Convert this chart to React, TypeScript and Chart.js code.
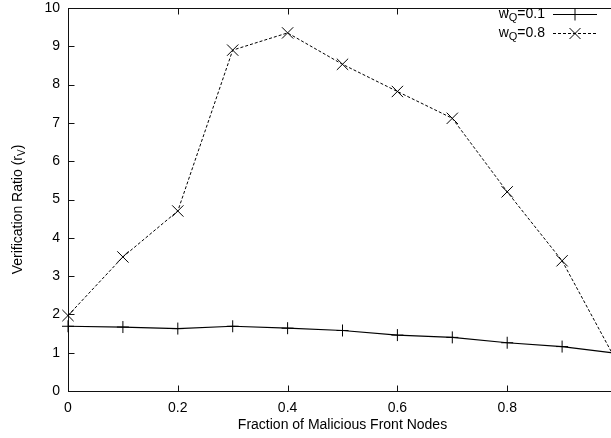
import React, { useEffect, useRef } from 'react';
import { Chart, registerables } from 'chart.js';

Chart.register(...registerables);

// ---- data ----
const fractions = [0, 0.1, 0.2, 0.3, 0.4, 0.5, 0.6, 0.7, 0.8, 0.9, 1.0];
const ratioWQ01 = [1.69, 1.67, 1.63, 1.69, 1.64, 1.58, 1.46, 1.4, 1.26, 1.16, 0.98];
const ratioWQ08 = [1.97, 3.5, 4.7, 8.9, 9.35, 8.53, 7.82, 7.12, 5.2, 3.4, 0.75];
const xTickValues = [0, 0.2, 0.4, 0.6, 0.8, 1.0];
const yTickValues = [0, 1, 2, 3, 4, 5, 6, 7, 8, 9, 10];
const seriesLabels = ['0.1', '0.8'];
const xTitle = 'Fraction of Malicious Front Nodes';
const yTitleMain = 'Verification Ratio (r';
const yTitleSub = 'V';
const yTitleEnd = ')';

const FONT = '"Liberation Sans", Arial, Helvetica, sans-serif';
const SHIFT = 7; // canvas is shifted up by this many px inside the frame

function drawMarker(ctx: CanvasRenderingContext2D, x: number, y: number, kind: 'plus' | 'x', r: number) {
  ctx.beginPath();
  if (kind === 'plus') {
    ctx.moveTo(x - r, y);
    ctx.lineTo(x + r, y);
    ctx.moveTo(x, y - r);
    ctx.lineTo(x, y + r);
  } else {
    ctx.moveTo(x - r, y - r);
    ctx.lineTo(x + r, y + r);
    ctx.moveTo(x - r, y + r);
    ctx.lineTo(x + r, y - r);
  }
  ctx.stroke();
}

const framePlugin = {
  id: 'gnuFrame',
  beforeDatasetsDraw(chart: any) {
    const { ctx, chartArea } = chart;
    const xs = chart.scales.x;
    const ys = chart.scales.y;
    const l = Math.round(chartArea.left) + 0.5;
    const r = Math.round(chartArea.right) + 0.5;
    const t = Math.round(chartArea.top) + 0.5;
    const b = Math.round(chartArea.bottom) + 0.5;
    ctx.save();
    ctx.strokeStyle = '#111';
    ctx.lineWidth = 1;
    ctx.strokeRect(l, t, r - l, b - t);
    const len = 6;
    ctx.beginPath();
    xTickValues.forEach((v) => {
      const px = Math.round(xs.getPixelForValue(v)) + 0.5;
      ctx.moveTo(px, b);
      ctx.lineTo(px, b - len);
      ctx.moveTo(px, t);
      ctx.lineTo(px, t + len);
    });
    yTickValues.forEach((v) => {
      const py = Math.round(ys.getPixelForValue(v)) + 0.5;
      ctx.moveTo(l, py);
      ctx.lineTo(l + len, py);
      ctx.moveTo(r, py);
      ctx.lineTo(r - len, py);
    });
    ctx.stroke();
    ctx.restore();
  },
  afterDraw(chart: any) {
    const { ctx, chartArea } = chart;
    ctx.save();
    ctx.fillStyle = '#000';
    ctx.textBaseline = 'middle';
    // x title
    ctx.font = `14px ${FONT}`;
    ctx.textAlign = 'center';
    ctx.fillText(xTitle, (chartArea.left + chartArea.right) / 2, 425 + SHIFT);

    // y title (rotated) with subscript
    ctx.save();
    ctx.translate(18, (chartArea.top + chartArea.bottom) / 2 + 10);
    ctx.rotate(-Math.PI / 2);
    ctx.textAlign = 'left';
    ctx.font = `14px ${FONT}`;
    const w1 = ctx.measureText(yTitleMain).width;
    const w3 = ctx.measureText(yTitleEnd).width;
    ctx.font = `10px ${FONT}`;
    const w2 = ctx.measureText(yTitleSub).width;
    let sx = -(w1 + w2 + w3) / 2;
    ctx.font = `14px ${FONT}`;
    ctx.fillText(yTitleMain, sx, 0);
    sx += w1;
    ctx.font = `10px ${FONT}`;
    ctx.fillText(yTitleSub, sx, 4);
    sx += w2;
    ctx.font = `14px ${FONT}`;
    ctx.fillText(yTitleEnd, sx, 0);
    ctx.restore();

    // legend
    const rows = [
      { y: 14 + SHIFT, label: seriesLabels[0], dash: [] as number[], kind: 'plus' as const, r: 6 },
      { y: 33 + SHIFT, label: seriesLabels[1], dash: [3, 2], kind: 'x' as const, r: 5.5 },
    ];
    rows.forEach((row) => {
      ctx.font = `14px ${FONT}`;
      const tail = '=' + row.label;
      const ww = ctx.measureText('w').width;
      const wt = ctx.measureText(tail).width;
      ctx.font = `11px ${FONT}`;
      const wq = ctx.measureText('Q').width;
      const right = 545;
      let x = right - (ww + wq + wt);
      ctx.textAlign = 'left';
      ctx.font = `14px ${FONT}`;
      ctx.fillText('w', x, row.y);
      x += ww;
      ctx.font = `11px ${FONT}`;
      ctx.fillText('Q', x, row.y + 4);
      x += wq;
      ctx.font = `14px ${FONT}`;
      ctx.fillText(tail, x, row.y);
      ctx.strokeStyle = '#000';
      ctx.lineWidth = row.kind === 'plus' ? 1.2 : 1;
      ctx.setLineDash(row.dash);
      ctx.beginPath();
      ctx.moveTo(553, row.y + 0.5);
      ctx.lineTo(597, row.y + 0.5);
      ctx.stroke();
      ctx.setLineDash([]);
      ctx.lineWidth = 1;
      drawMarker(ctx, 575, row.y + 0.5, row.kind, row.r);
    });
    ctx.restore();
  },
};

export default function App() {
  const ref = useRef<HTMLCanvasElement | null>(null);
  useEffect(() => {
    if (!ref.current) return;
    const chart = new Chart(ref.current, {
      type: 'line',
      data: {
        datasets: [
          {
            label: 'wQ=' + seriesLabels[0],
            data: fractions.map((f, i) => ({ x: f, y: ratioWQ01[i] })),
            borderColor: '#000',
            borderWidth: 1.2,
            pointStyle: 'cross',
            pointRadius: 6,
            pointBorderWidth: 1,
            pointBorderColor: '#000',
            pointBackgroundColor: '#000',
            fill: false,
            tension: 0,
            clip: false,
          } as any,
          {
            label: 'wQ=' + seriesLabels[1],
            data: fractions.map((f, i) => ({ x: f, y: ratioWQ08[i] })),
            borderColor: '#000',
            borderWidth: 1,
            borderDash: [3, 2],
            pointStyle: 'crossRot',
            pointRadius: 8,
            pointBorderWidth: 1,
            pointBorderColor: '#000',
            pointBackgroundColor: '#000',
            fill: false,
            tension: 0,
            clip: false,
          } as any,
        ],
      },
      options: {
        animation: false,
        responsive: false,
        devicePixelRatio: 1,
        layout: { padding: { top: 0, right: 5, left: 0, bottom: 0 } },
        plugins: { legend: { display: false }, tooltip: { enabled: false } },
        scales: {
          x: {
            type: 'linear',
            min: 0,
            max: 1,
            grid: { display: false, drawTicks: false },
            border: { display: false },
            afterFit: (s: any) => { s.height = 47; },
            afterBuildTicks: (s: any) => { s.ticks = xTickValues.map((v) => ({ value: v })); },
            ticks: {
              padding: 10,
              color: '#000',
              font: { family: FONT, size: 14, lineHeight: 1 },
              maxRotation: 0,
              callback: (v: any) => (Number(v) >= 0.999 ? '' : String(+Number(v).toFixed(1))),
            },
          },
          y: {
            type: 'linear',
            min: 0,
            max: 10,
            grid: { display: false, drawTicks: false },
            border: { display: false },
            afterFit: (s: any) => { s.width = 68; },
            afterBuildTicks: (s: any) => { s.ticks = yTickValues.map((v) => ({ value: v })); },
            ticks: {
              padding: 8,
              color: '#000',
              font: { family: FONT, size: 14, lineHeight: 1 },
              callback: (v: any) => String(v),
            },
          },
        },
      },
      plugins: [framePlugin],
    });
    return () => chart.destroy();
  }, []);
  return (
    <div style={{ position: 'fixed', left: 0, top: 0, width: 611, height: 438, overflow: 'hidden', background: '#fff' }}>
      <canvas
        ref={ref}
        width={627}
        height={438 + SHIFT}
        style={{ display: 'block', width: 627, height: 438 + SHIFT, marginTop: -SHIFT }}
      />
    </div>
  );
}
